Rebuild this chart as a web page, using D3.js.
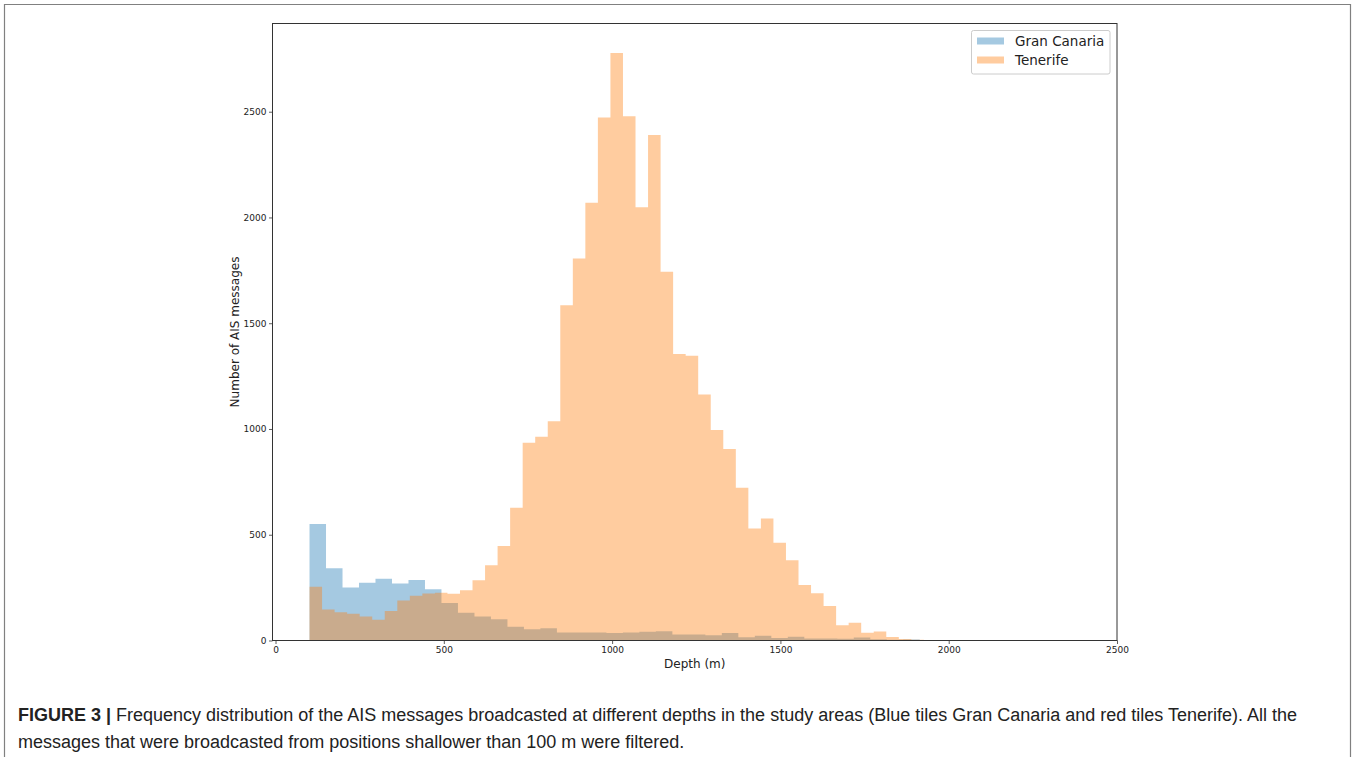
<!DOCTYPE html>
<html>
<head>
<meta charset="utf-8">
<script src="https://cdn.jsdelivr.net/npm/d3@7"></script>
<style>
  body { margin: 0; background: #fff; }
  svg text { font-family: "DejaVu Sans", sans-serif; }
  svg text.caption { font-family: "Liberation Sans", Arial, sans-serif; }
</style>
</head>
<body>
<div id="chart"></div>
<script>
// Histogram counts (depth bins in metres)
var granCanariaStart = 101;
var granCanariaWidth = 49;
var granCanariaCounts = [551, 341, 250, 273, 292, 270, 286, 242, 177, 131,
  114, 100, 65, 53, 58, 38, 38, 38, 35, 38,
  41, 44, 28, 28, 25, 35, 15, 22, 12, 18,
  10, 9, 8, 14, 6, 4, 5, 2, 1, 1];

var tenerifeStart = 101;
var tenerifeWidth = 37.25;
var tenerifeCounts = [254, 146, 133, 126, 113, 98, 140, 189, 211, 222,
  226, 221, 237, 285, 356, 447, 628, 935, 963, 1037,
  1585, 1806, 2069, 2473, 2777, 2479, 2048, 2390, 1743, 1355,
  1346, 1163, 995, 905, 722, 530, 577, 462, 379, 262,
  223, 163, 72, 84, 37, 42, 17, 7, 4, 2];

var seriesNames = ["Gran Canaria", "Tenerife"];
var seriesColors = ["#1f77b4", "#ff7f0e"];
var xTicks = [0, 500, 1000, 1500, 2000, 2500];
var yTicks = [0, 500, 1000, 1500, 2000, 2500];

var captionBold = "FIGURE 3 |";
var captionLine1 = " Frequency distribution of the AIS messages broadcasted at different depths in the study areas (Blue tiles Gran Canaria and red tiles Tenerife). All the";
var captionLine2 = "messages that were broadcasted from positions shallower than 100 m were filtered.";

var svgWidth = 1359;
var svgHeight = 761;

var plot = { left: 272.5, right: 1117, top: 23.5, bottom: 640.5 };

var svg = d3.select("#chart")
  .append("svg")
  .attr("width", svgWidth)
  .attr("height", svgHeight);

// figure border
svg.append("path")
  .attr("d", "M4.5,757 V4.5 H1350.5 V757")
  .attr("fill", "none")
  .attr("stroke", "#808080")
  .attr("stroke-width", 1.2);

var x = d3.scaleLinear().domain([-9, 2500]).range([plot.left, plot.right]);
var y = d3.scaleLinear().domain([0, 2917]).range([plot.bottom, plot.top]);

// turn counts into step points (left edge of every bin + closing edge)
function steps(start, width, counts) {
  var pts = counts.map(function(c, i) { return { x0: start + i * width, v: c }; });
  pts.push({ x0: start + counts.length * width, v: 0 });
  return pts;
}

var area = d3.area()
  .curve(d3.curveStepAfter)
  .x(function(d) { return x(d.x0); })
  .y0(y(0))
  .y1(function(d) { return y(d.v); });

var histData = [
  steps(granCanariaStart, granCanariaWidth, granCanariaCounts),
  steps(tenerifeStart, tenerifeWidth, tenerifeCounts)
];

svg.append("g").selectAll("path")
  .data(histData)
  .enter()
  .append("path")
  .attr("d", area)
  .attr("fill", function(d, i) { return seriesColors[i]; })
  .attr("fill-opacity", 0.4);

// axes
var xAxis = d3.axisBottom(x).tickValues(xTicks).tickFormat(d3.format("d")).tickSize(3.5).tickPadding(2.5);
var yAxis = d3.axisLeft(y).tickValues(yTicks).tickFormat(d3.format("d")).tickSize(3.5).tickPadding(2.5);

var gx = svg.append("g")
  .attr("transform", "translate(0," + plot.bottom + ")")
  .call(xAxis);
var gy = svg.append("g")
  .attr("transform", "translate(" + plot.left + ",0)")
  .call(yAxis);

[gx, gy].forEach(function(g) {
  g.select(".domain").remove();
  g.selectAll("line").attr("stroke", "#333").attr("stroke-width", 0.8);
  g.selectAll("text")
    .attr("fill", "#222")
    .style("font-family", "'DejaVu Sans', sans-serif")
    .style("font-size", "9px");
});

// frame (spines)
svg.append("rect")
  .attr("x", plot.left)
  .attr("y", plot.top)
  .attr("width", plot.right - plot.left)
  .attr("height", plot.bottom - plot.top)
  .attr("fill", "none")
  .attr("stroke", "#333")
  .attr("stroke-width", 1);

// axis labels
svg.append("text")
  .attr("x", (plot.left + plot.right) / 2)
  .attr("y", 668)
  .attr("text-anchor", "middle")
  .attr("fill", "#222")
  .style("font-size", "12px")
  .text("Depth (m)");

svg.append("text")
  .attr("transform", "translate(239," + ((plot.top + plot.bottom) / 2) + ") rotate(-90)")
  .attr("text-anchor", "middle")
  .attr("fill", "#222")
  .style("font-size", "12px")
  .text("Number of AIS messages");

// legend
var legend = svg.append("g").attr("transform", "translate(971.5,30.5)");
legend.append("rect")
  .attr("width", 138.5)
  .attr("height", 43.5)
  .attr("rx", 2)
  .attr("fill", "#fff")
  .attr("fill-opacity", 0.8)
  .attr("stroke", "#ccc")
  .attr("stroke-width", 1);

var items = legend.selectAll(".item")
  .data(seriesNames)
  .enter()
  .append("g")
  .attr("transform", function(d, i) { return "translate(0," + (i * 19) + ")"; });

items.append("rect")
  .attr("x", 5.5)
  .attr("y", 7)
  .attr("width", 27)
  .attr("height", 7)
  .attr("fill", function(d, i) { return seriesColors[i]; })
  .attr("fill-opacity", 0.4);

items.append("text")
  .attr("x", 43.5)
  .attr("y", 15.5)
  .attr("fill", "#222")
  .style("font-size", "13.5px")
  .text(function(d) { return d; });

// caption
var t1 = svg.append("text")
  .attr("class", "caption")
  .attr("x", 18)
  .attr("y", 721)
  .attr("fill", "#222")
  .style("font-size", "18px");
t1.append("tspan").style("font-weight", "bold").text(captionBold);
t1.append("tspan").text(captionLine1);

svg.append("text")
  .attr("class", "caption")
  .attr("x", 18)
  .attr("y", 748)
  .attr("fill", "#222")
  .style("font-size", "18px")
  .text(captionLine2);
</script>
</body>
</html>
